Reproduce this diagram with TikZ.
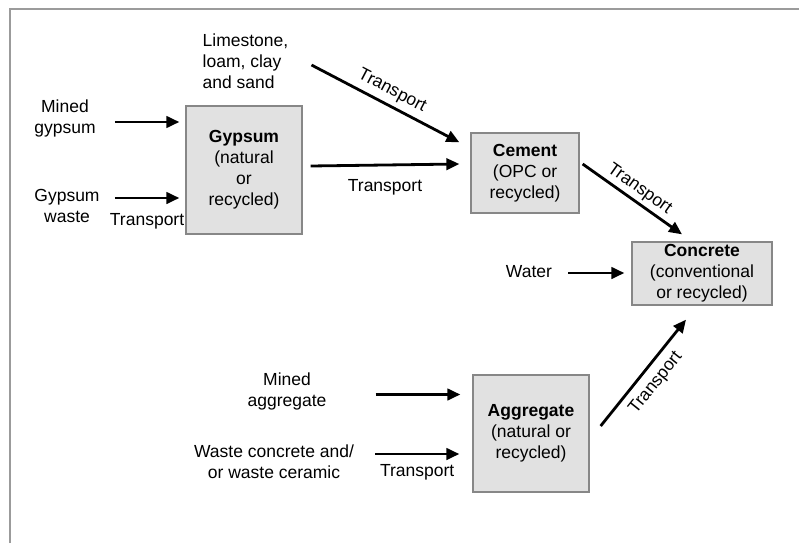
\documentclass[tikz,border=0pt]{standalone}
\usepackage{fontspec}
\setmainfont{Liberation Sans}
\usetikzlibrary{arrows.meta,calc}
\definecolor{boxfill}{RGB}{225,225,225}
\definecolor{boxline}{RGB}{135,135,135}
\definecolor{framegray}{RGB}{155,155,155}

\begin{document}
\begin{tikzpicture}[x=1pt, y=-1pt,
  every node/.style={font=\fontsize{17.5pt}{21pt}\selectfont, align=center, inner sep=0pt},
  box/.style={draw=boxline, fill=boxfill, line width=1.3pt},
  arr/.style={-{Triangle[length=13pt,width=11.5pt]}, line width=2.8pt}]
  \useasboundingbox (0,0) rectangle (799,543);
  % frame
  \draw[framegray, line width=1.5pt] (10,543) |- (799,9);
  % boxes
  \node[box, minimum width=116pt, minimum height=128pt] (gyps) at (244,170) {\textbf{Gypsum}\\(natural\\or\\recycled)};
  \node[box, minimum width=108pt, minimum height=80pt] (cem) at (525,173) {\textbf{Cement}\\(OPC or\\recycled)};
  \node[box, minimum width=140pt, minimum height=63pt] (conc) at (702,273.5) {\textbf{Concrete}\\(conventional\\or recycled)};
  \node[box, minimum width=116pt, minimum height=117pt] (agg) at (531,433.5) {\textbf{Aggregate}\\(natural or\\recycled)};
  % inputs
  \node (mgyp) at (65,118) {Mined\\gypsum};
  \node (wgyp) at (67,206) {Gypsum\\waste};
  \node[align=left] (lime) at (245.5,61) {Limestone,\\loam, clay\\and sand};
  \node (water) at (529,272) {Water};
  \node (magg) at (287,391) {Mined\\aggregate};
  \node (wagg) at (274,461.5) {Waste concrete and/\\or waste ceramic};
  % gypsum side
  \draw[arr] ($(mgyp.east)+(19,4)$) -- ($(gyps.west)+(-6,-48)$);
  \draw[arr] ($(wgyp.east)+(15,-8)$) -- ($(gyps.west)+(-6,28)$) node[midway, below=14pt]{Transport};
  \draw[arr] ($(lime.east)+(23,4)$) -- ($(cem.north west)+(-11,10)$) node[midway, sloped, above=5pt]{Transport};
  \draw[arr] ($(gyps.east)+(8,-4)$) -- ($(cem.west)+(-11,-9)$) node[midway, below=13.5pt]{Transport};
  % to concrete
  \draw[arr] ($(cem.east)+(3,-9)$) -- ($(conc.north)+(-20,-7)$) node[midway, sloped, above=3pt]{Transport};
  \draw[arr] ($(water.east)+(16,1)$) -- ($(conc.west)+(-7,-0.5)$);
  \draw[arr] ($(agg.east)+(11,-7.5)$) -- ($(conc.south)+(-16,14)$) node[midway, sloped, below=7pt]{Transport};
  % aggregate side
  \draw[arr] ($(magg.east)+(49,3.5)$) -- ($(agg.west)+(-12,-39)$);
  \draw[arr] ($(wagg.east)+(21,-7.5)$) -- ($(agg.west)+(-13,20.5)$) node[midway, below=9.5pt]{Transport};
\end{tikzpicture}
\end{document}
